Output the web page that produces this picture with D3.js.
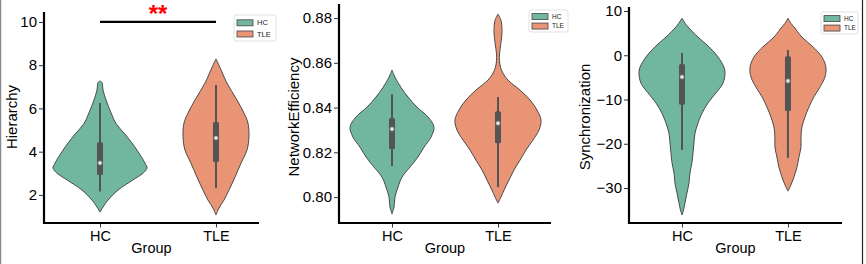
<!DOCTYPE html>
<html>
<head>
<meta charset="utf-8">
<script src="https://cdn.jsdelivr.net/npm/d3@7"></script>
<style>
  body { margin: 0; background: #fff; }
  svg { display: block; font-family: "Liberation Sans", Arial, sans-serif; }
</style>
</head>
<body>
<div id="chart"></div>
<script>
// groups and colours
const groups = ["HC", "TLE"];
const colors = ["#71b7a0", "#e99575"];

// violin outlines: [value, half width in category units]
const hierHC  = [[7.27,0],[7.2,0.017],[6.85,0.026],[6.39,0.052],[5.8,0.095],[5.3,0.138],[4.86,0.207],[4.4,0.276],[4.07,0.319],[3.47,0.388],[3.24,0.405],[3.0,0.37],[2.69,0.284],[2.22,0.155],[1.76,0.069],[1.44,0.026],[1.2,0]];
const hierTLE = [[8.29,0],[7.9,0.034],[7.17,0.095],[6.39,0.181],[5.79,0.241],[5.32,0.276],[4.68,0.284],[4.07,0.267],[3.47,0.216],[2.82,0.164],[2.22,0.112],[1.76,0.069],[1.39,0.026],[1.07,0]];

const effHC  = [[0.8568,0],[0.8536,0.028],[0.849,0.085],[0.8447,0.151],[0.8402,0.236],[0.8358,0.34],[0.8313,0.396],[0.8268,0.368],[0.8223,0.302],[0.8179,0.245],[0.8134,0.17],[0.8089,0.094],[0.8045,0.057],[0.80,0.028],[0.7955,0.019],[0.7924,0]];
const effTLE = [[0.8818,0],[0.879,0.028],[0.874,0.038],[0.869,0.028],[0.864,0.014],[0.861,0.014],[0.858,0.024],[0.8554,0.047],[0.8523,0.094],[0.8478,0.208],[0.8434,0.302],[0.8389,0.368],[0.8344,0.406],[0.83,0.387],[0.8255,0.33],[0.821,0.264],[0.8165,0.208],[0.8121,0.151],[0.8076,0.104],[0.8031,0.057],[0.80,0.028],[0.7973,0]];

const syncHC  = [[8.35,0],[7.2,0.031],[6.4,0.057],[4.1,0.151],[1.9,0.255],[-0.4,0.34],[-2.7,0.396],[-4.0,0.406],[-6.3,0.387],[-8.5,0.321],[-10.8,0.245],[-13.1,0.189],[-15.3,0.151],[-17.6,0.123],[-19.8,0.113],[-22.1,0.104],[-24.3,0.094],[-26.6,0.075],[-28.9,0.066],[-31.1,0.047],[-33.4,0.028],[-35,0.014],[-36.1,0]];
const syncTLE = [[8.35,0],[7.2,0.028],[6.4,0.057],[4.1,0.132],[1.9,0.236],[-0.4,0.321],[-2.7,0.358],[-4.9,0.349],[-7.2,0.302],[-9.4,0.245],[-11.7,0.198],[-14.0,0.16],[-16.2,0.132],[-18.5,0.123],[-20.7,0.123],[-23.0,0.104],[-25.3,0.085],[-27.5,0.057],[-29.3,0.028],[-30.7,0]];

// inner box: [whisker low, q1, median, q3, whisker high]
const hierStats = [[2.16, 2.92, 3.48, 4.44, 6.25], [2.31, 3.52, 4.63, 5.37, 7.08]];
const effStats  = [[0.8139, 0.8215, 0.8304, 0.8353, 0.846], [0.8045, 0.8241, 0.833, 0.8384, 0.8447]];
const syncStats = [[-21.4, -11.2, -4.9, -2.0, 0.5], [-23.2, -12.6, -5.8, -0.2, 1.2]];

// tick values
const hierTicks = [2, 4, 6, 8, 10];
const effTicks  = [0.80, 0.82, 0.84, 0.86, 0.88];
const syncTicks = [-30, -20, -10, 0, 10];

// significance marker on the first panel
const sigLevel = 10;
const sigText = "**";

const width = 866, height = 264;

const svg = d3.select("#chart")
  .append("svg")
  .attr("width", width)
  .attr("height", height);

const panels = [
  { label: "Hierarchy", outlines: [hierHC, hierTLE], stats: hierStats, ticks: hierTicks,
    fmt: d3.format("d"), ydom: [0.70, 10.46], ytop: 12, xdom: [-0.483, 1.371], xr: [44, 259],
    labelX: 12, legend: { x: 234, y: 15, w: 42, h: 26, fs: 7.5 } },
  { label: "NetworkEfficiency", outlines: [effHC, effTLE], stats: effStats, ticks: effTicks,
    fmt: d3.format(".2f"), ydom: [0.7884, 0.8863], ytop: 4, xdom: [-0.5, 1.5], xr: [339, 551],
    labelX: 294, legend: { x: 529, y: 10, w: 39, h: 22, fs: 6.5 } },
  { label: "Synchronization", outlines: [syncHC, syncTLE], stats: syncStats, ticks: syncTicks,
    fmt: d => d3.format("d")(d).replace("-", "\u2212"), ydom: [-37.9, 10.9], ytop: 7, xdom: [-0.5, 1.51], xr: [629, 842],
    labelX: 585, legend: { x: 821, y: 12, w: 37, h: 22, fs: 6.5 } }
];

const bottom = 223;

panels.forEach(function(p, pi) {
  const g = svg.append("g");

  const xScale = d3.scaleLinear().domain(p.xdom).range(p.xr);
  const yScale = d3.scaleLinear().domain(p.ydom).range([bottom, p.ytop]);

  // violins
  p.outlines.forEach(function(outline, i) {
    const area = d3.area()
      .curve(d3.curveCatmullRom)
      .y(d => yScale(d[0]))
      .x0(d => xScale(i - d[1]))
      .x1(d => xScale(i + d[1]));
    g.append("path")
      .datum(outline)
      .attr("d", area)
      .attr("fill", colors[i])
      .attr("stroke", "#4a4a4a")
      .attr("stroke-width", 1);
  });

  // inner boxes
  p.stats.forEach(function(s, i) {
    const cx = xScale(i);
    g.append("line")
      .attr("x1", cx).attr("x2", cx)
      .attr("y1", yScale(s[4])).attr("y2", yScale(s[0]))
      .attr("stroke", "#545454").attr("stroke-width", 2);
    g.append("rect")
      .attr("x", cx - 3).attr("width", 6)
      .attr("y", yScale(s[3])).attr("height", yScale(s[1]) - yScale(s[3]))
      .attr("rx", 1.5)
      .attr("fill", "#545454");
    g.append("circle")
      .attr("cx", cx).attr("cy", yScale(s[2])).attr("r", 2)
      .attr("fill", "#e8e8e8").attr("stroke", "#9a9a9a").attr("stroke-width", 0.7);
  });

  // axes
  const yAxis = g.append("g")
    .attr("transform", `translate(${p.xr[0]},0)`)
    .call(d3.axisLeft(yScale).tickValues(p.ticks).tickFormat(p.fmt).tickSize(5).tickPadding(2));
  const xAxis = g.append("g")
    .attr("transform", `translate(0,${bottom})`)
    .call(d3.axisBottom(xScale).tickValues([0, 1]).tickFormat(i => groups[i]).tickSize(4.5).tickPadding(3));
  [yAxis, xAxis].forEach(function(a, ai) {
    a.select(".domain").remove();
    a.selectAll(".tick line").attr("stroke", "#000").attr("stroke-width", 0.8);
    a.selectAll(".tick text").attr("fill", "#000").style("font-size", ai === 0 ? "15px" : "14.5px")
      .style("font-family", "'Liberation Sans', Arial, sans-serif");
  });

  // spines
  g.append("line")
    .attr("x1", p.xr[0]).attr("x2", p.xr[0]).attr("y1", p.ytop).attr("y2", bottom + 1)
    .attr("stroke", "#000").attr("stroke-width", 2.2);
  g.append("line")
    .attr("x1", p.xr[0] - 1).attr("x2", p.xr[1]).attr("y1", bottom).attr("y2", bottom)
    .attr("stroke", "#000").attr("stroke-width", 2.2);

  // axis labels
  g.append("text")
    .attr("x", (p.xr[0] + p.xr[1]) / 2).attr("y", 253)
    .attr("text-anchor", "middle").style("font-size", "14.5px").attr("fill", "#000")
    .text("Group");
  g.append("text")
    .attr("transform", "rotate(-90)")
    .attr("x", -117).attr("y", p.labelX)
    .attr("dy", "0.35em")
    .attr("text-anchor", "middle").style("font-size", "15px").attr("fill", "#000")
    .text(p.label);

  // legend
  const L = p.legend;
  const leg = g.append("g").attr("transform", `translate(${L.x},${L.y})`);
  leg.append("rect")
    .attr("width", L.w).attr("height", L.h).attr("rx", 2)
    .attr("fill", "#fff").attr("stroke", "#d9d9d9").attr("stroke-width", 0.8);
  groups.forEach(function(name, i) {
    const cy = L.h * (0.3 + 0.43 * i);
    leg.append("rect")
      .attr("x", 3).attr("y", cy - 3).attr("width", 16).attr("height", 6)
      .attr("fill", colors[i]).attr("stroke", "#444").attr("stroke-width", 0.8);
    leg.append("text")
      .attr("x", 23).attr("y", cy).attr("dy", "0.35em")
      .style("font-size", L.fs + "px").attr("fill", "#222")
      .text(name);
  });

  // significance bar
  if (pi === 0) {
    const sy = yScale(sigLevel);
    g.append("line")
      .attr("x1", xScale(0)).attr("x2", xScale(1)).attr("y1", sy).attr("y2", sy)
      .attr("stroke", "#000").attr("stroke-width", 2.2);
    g.append("text")
      .attr("x", (xScale(0) + xScale(1)) / 2).attr("y", sy)
      .attr("text-anchor", "middle")
      .style("font-size", "24px").style("font-weight", "bold").attr("fill", "#ff0000")
      .text(sigText);
  }
});

// frame edges of the original figure
svg.append("line").attr("x1", 0.5).attr("x2", 0.5).attr("y1", 0).attr("y2", height)
  .attr("stroke", "#8a8a8a").attr("stroke-width", 1.5);
svg.append("line").attr("x1", 862.5).attr("x2", 862.5).attr("y1", 0).attr("y2", height)
  .attr("stroke", "#222").attr("stroke-width", 1.2);
</script>
</body>
</html>
